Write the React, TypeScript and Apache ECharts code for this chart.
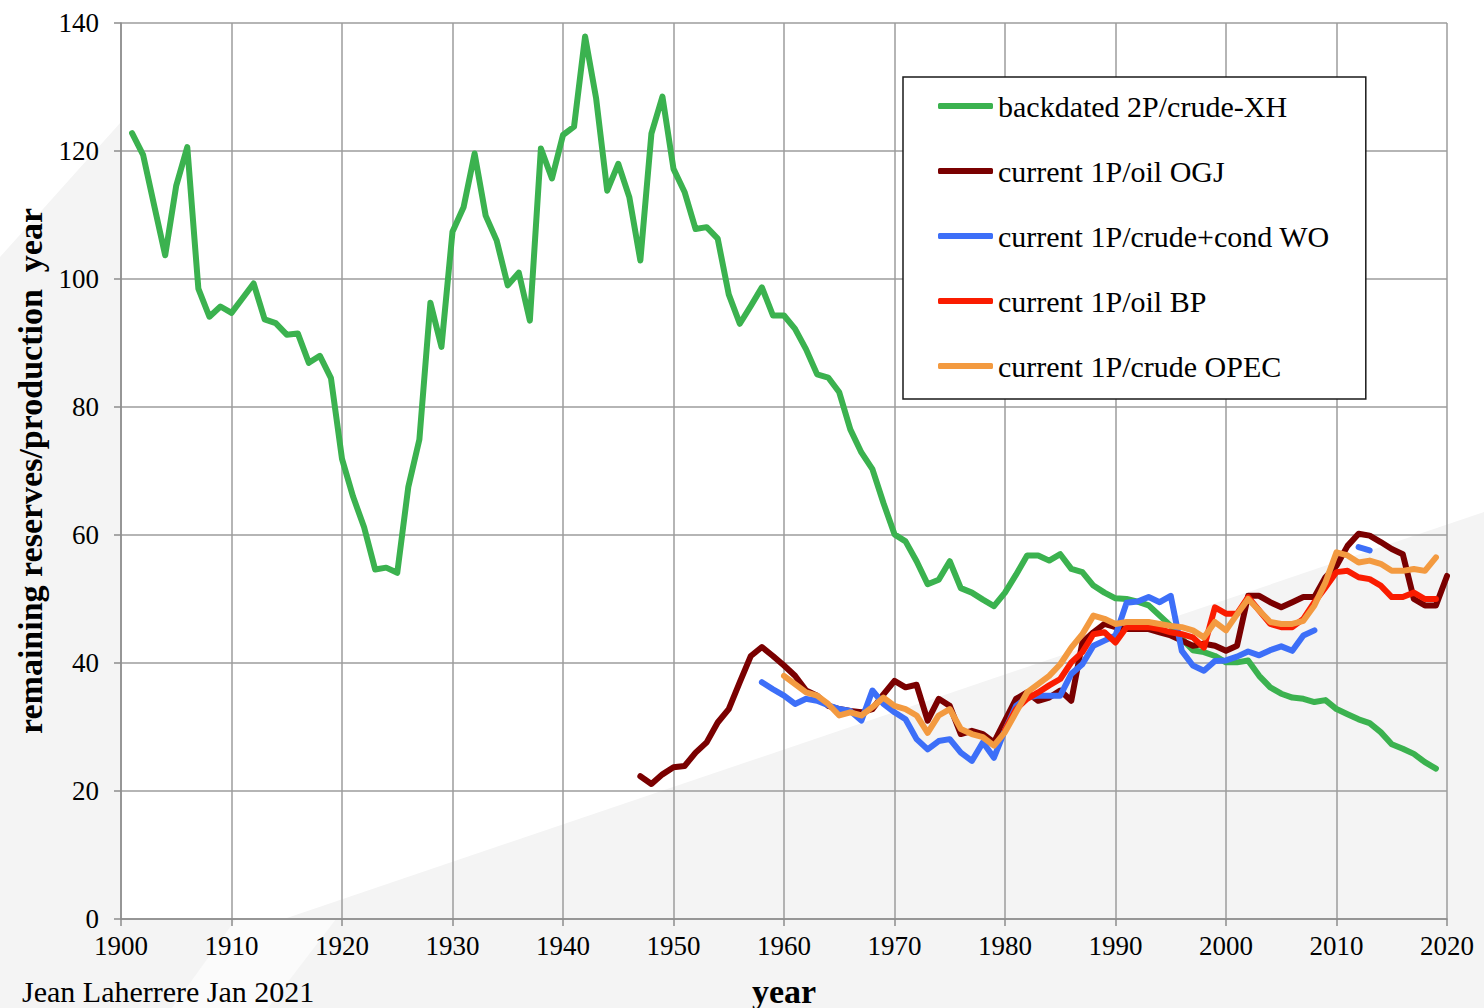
import React, { useEffect, useRef } from "react";
import * as echarts from "echarts";

const FONT = "'Liberation Serif', 'Times New Roman', serif";

const xTicks = [1900, 1910, 1920, 1930, 1940, 1950, 1960, 1970, 1980, 1990, 2000, 2010, 2020];
const yTicks = [0, 20, 40, 60, 80, 100, 120, 140];

const seriesNames = [
  "backdated 2P/crude-XH",
  "current 1P/oil OGJ",
  "current 1P/crude+cond WO",
  "current 1P/oil BP",
  "current 1P/crude OPEC",
];
const seriesColors = ["#3bb24f", "#7a0000", "#3d6ff8", "#fa1c00", "#f39a40"];

// backdated 2P/crude-XH, 1901..2019
const xhStart = 1901;
const xhValues = [
  122.8, 119.4, 111.5, 103.7, 114.6, 120.6, 98.5, 94.1, 95.7, 94.7,
  97.0, 99.3, 93.7, 93.1, 91.3, 91.5, 86.9, 88.0, 84.5, 71.9,
  66.0, 61.2, 54.6, 54.9, 54.1, 67.5, 74.9, 96.3, 89.4, 107.4,
  111.2, 119.6, 109.9, 106.0, 99.0, 101.0, 93.5, 120.4, 115.7, 122.5,
  123.8, 137.9, 128.2, 113.8, 118.0, 112.8, 102.9, 122.7, 128.5, 117.2,
  113.6, 107.8, 108.1, 106.3, 97.6, 93.0, 95.8, 98.7, 94.3, 94.3,
  92.2, 89.0, 85.1, 84.6, 82.3, 76.5, 72.9, 70.3, 65.0, 60.1,
  59.0, 55.9, 52.3, 53.0, 55.9, 51.7, 51.0, 49.9, 48.9, 51.0,
  53.8, 56.8, 56.8, 56.0, 57.0, 54.7, 54.2, 52.1, 51.0, 50.1,
  50.0, 49.6, 49.0, 47.4, 45.8, 43.8, 42.0, 41.7, 41.1, 40.1,
  40.1, 40.4, 38.0, 36.2, 35.2, 34.6, 34.4, 33.9, 34.2, 32.8,
  32.0, 31.2, 30.6, 29.2, 27.3, 26.6, 25.8, 24.5, 23.5,
];

// current 1P/oil OGJ, 1947..2020
const ogjStart = 1947;
const ogjValues = [
  22.3, 21.1, 22.6, 23.7, 23.9, 26.0, 27.6, 30.7, 32.8, 37.0,
  41.1, 42.5, 41.1, 39.6, 38.0, 35.7, 34.9, 33.3, 32.8, 32.5,
  32.3, 32.8, 35.1, 37.2, 36.2, 36.6, 31.0, 34.4, 33.3, 28.9,
  29.4, 28.9, 27.6, 31.0, 34.4, 35.4, 34.1, 34.6, 35.7, 34.1,
  43.2, 44.8, 46.1, 45.6, 45.3, 45.3, 45.3, 44.8, 44.3, 43.5,
  42.7, 43.0, 42.7, 41.9, 42.7, 50.5, 50.5, 49.5, 48.7, 49.5,
  50.3, 50.3, 53.4, 55.2, 58.3, 60.2, 59.9, 58.9, 57.8, 57.0,
  50.0, 49.0, 49.0, 53.6,
];

// current 1P/crude+cond WO, 1958..2013 (gap 2009-2011)
const woStart = 1958;
const woValues = [
  37.0, 35.9, 34.9, 33.6, 34.4, 34.1, 33.4, 32.8, 32.5, 31.0,
  35.7, 33.6, 32.3, 31.2, 28.1, 26.5, 27.8, 28.1, 26.0, 24.7,
  27.6, 25.2, 29.5, 33.3, 34.6, 34.9, 34.9, 34.9, 38.3, 39.8,
  42.7, 43.5, 44.3, 49.4, 49.6, 50.3, 49.5, 50.5, 41.9, 39.6,
  38.8, 40.3, 40.4, 41.0, 41.8, 41.2, 42.0, 42.6, 41.9, 44.3,
  45.1, null, null, null, 58.1, 57.6,
];

// current 1P/oil BP, 1980..2019
const bpStart = 1980;
const bpValues = [
  29.5, 32.8, 34.4, 35.4, 36.5, 37.5, 40.1, 41.7, 44.5, 44.8,
  43.2, 45.6, 45.6, 45.6, 45.3, 44.8, 44.5, 44.0, 42.4, 48.7,
  47.7, 47.7, 50.3, 48.2, 46.1, 45.6, 45.6, 46.9, 49.5, 51.8,
  54.2, 54.4, 53.4, 53.1, 52.1, 50.3, 50.3, 51.0, 50.0, 50.0,
];

// current 1P/crude OPEC, 1960..2019
const opecStart = 1960;
const opecValues = [
  38.0, 36.7, 35.4, 34.9, 33.6, 31.8, 32.3, 31.8, 33.1, 34.6,
  33.3, 32.8, 31.8, 29.1, 31.8, 32.8, 29.7, 28.9, 28.4, 27.1,
  29.2, 32.3, 35.4, 36.7, 38.0, 39.8, 42.4, 44.5, 47.4, 46.9,
  46.1, 46.4, 46.4, 46.4, 46.1, 45.8, 45.6, 45.1, 44.0, 46.4,
  45.1, 47.6, 50.0, 48.2, 46.4, 46.1, 46.1, 46.6, 49.0, 52.6,
  57.3, 56.8, 55.7, 56.0, 55.5, 54.4, 54.4, 54.7, 54.4, 56.5,
];

const seriesStarts = [xhStart, ogjStart, woStart, bpStart, opecStart];
const seriesValues = [xhValues, ogjValues, woValues, bpValues, opecValues];

export default function App() {
  const ref = useRef<HTMLDivElement>(null);

  useEffect(() => {
    if (!ref.current) return;
    const chart = echarts.init(ref.current, undefined, { renderer: "svg" });

    const series = seriesNames.map((name, i) => ({
      name,
      type: "line",
      data: seriesValues[i].map((v, k) => [seriesStarts[i] + k, v]),
      symbol: "none",
      connectNulls: false,
      lineStyle: { color: seriesColors[i], width: 6, cap: "round", join: "round" },
      itemStyle: { color: seriesColors[i] },
      z: 3 + i,
    }));

    const axisLabelStyle = { fontFamily: FONT, fontSize: 27, color: "#000" };

    chart.setOption({
      animation: false,
      backgroundColor: "#f4f4f4",
      graphic: [
        {
          type: "polygon",
          z: -10,
          silent: true,
          shape: {
            points: [
              [0, 0], [1484, 0], [1484, 512], [284, 919], [121, 919], [121, 122], [0, 257],
            ],
          },
          style: { fill: "#ffffff" },
        },
        {
          type: "polygon",
          z: -10,
          silent: true,
          shape: { points: [[236, 919], [336, 919], [268, 1008], [172, 1008]] },
          style: { fill: "#fbfbfb" },
        },
        {
          type: "text",
          left: 22,
          top: 976,
          style: {
            text: "Jean Laherrere Jan 2021",
            font: `30px ${FONT}`,
            lineHeight: 30,
            fill: "#000",
          },
        },
      ],
      grid: {
        left: 121,
        right: 37,
        top: 23,
        bottom: 89,
        containLabel: false,
        outerBoundsMode: "none",
      },
      legend: {
        data: seriesNames,
        orient: "vertical",
        left: 903,
        top: 77,
        backgroundColor: "#ffffff",
        borderColor: "#1a1a1a",
        borderWidth: 1.5,
        borderRadius: 0,
        padding: [14, 36, 18, 35],
        itemGap: 35,
        itemWidth: 55,
        itemHeight: 6,
        icon: "roundRect",
        textStyle: { fontFamily: FONT, fontSize: 30, color: "#000", lineHeight: 30 },
      },
      xAxis: {
        type: "value",
        min: xTicks[0],
        max: xTicks[xTicks.length - 1],
        interval: 10,
        name: "year",
        nameLocation: "middle",
        nameGap: 56,
        nameTextStyle: {
          fontFamily: FONT,
          fontSize: 34,
          lineHeight: 32,
          fontWeight: "bold",
          color: "#000",
        },
        axisLine: { show: true, lineStyle: { color: "#8c8c8c", width: 1.5 } },
        axisTick: { show: true, inside: false, length: 7, lineStyle: { color: "#8c8c8c", width: 1.5 } },
        splitLine: { show: true, lineStyle: { color: "#9d9d9d", width: 1.5 } },
        axisLabel: { ...axisLabelStyle, margin: 13, formatter: (v: number) => String(v) },
      },
      yAxis: {
        type: "value",
        min: yTicks[0],
        max: yTicks[yTicks.length - 1],
        interval: 20,
        name: "remaining reserves/production  year",
        nameLocation: "middle",
        nameGap: 70,
        nameRotate: 90,
        nameTextStyle: { fontFamily: FONT, fontSize: 34, fontWeight: "bold", color: "#000" },
        axisLine: { show: true, lineStyle: { color: "#8c8c8c", width: 1.5 } },
        axisTick: { show: true, inside: false, length: 7, lineStyle: { color: "#8c8c8c", width: 1.5 } },
        splitLine: { show: true, lineStyle: { color: "#9d9d9d", width: 1.5 } },
        axisLabel: { ...axisLabelStyle, margin: 22 },
      },
      series,
    });

    return () => chart.dispose();
  }, []);

  return (
    <div
      ref={ref}
      style={{ position: "absolute", left: 0, top: 0, width: 1484, height: 1008 }}
    />
  );
}
